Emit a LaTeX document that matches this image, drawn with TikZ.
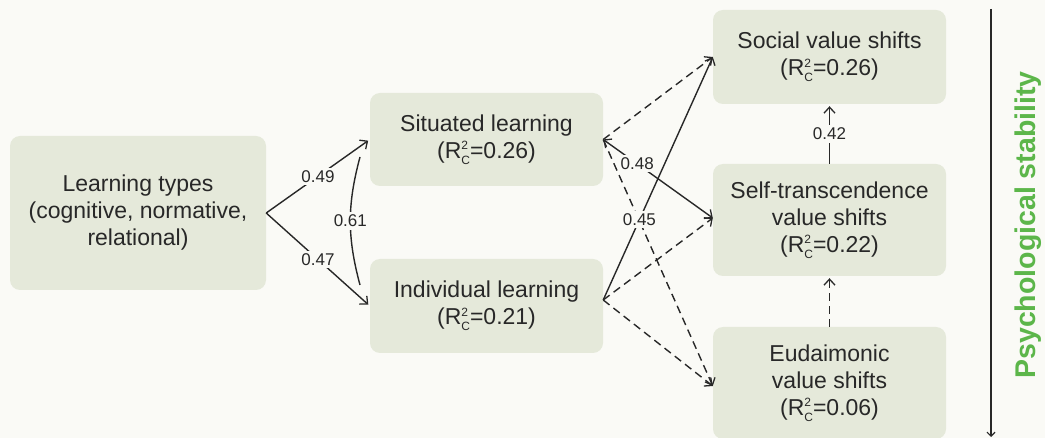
\documentclass[tikz,border=0pt]{standalone}
\usepackage{fontspec}
\setmainfont{Liberation Sans}
\usetikzlibrary{arrows.meta,calc}
\definecolor{bgcol}{RGB}{250,250,246}
\definecolor{boxcol}{RGB}{229,233,218}
\definecolor{inkcol}{RGB}{40,40,40}
\definecolor{greencol}{RGB}{92,182,74}
% R squared with a stacked C subscript
\newcommand\RsqC{R\rlap{\raisebox{0.68ex}{\fontsize{12}{12}\selectfont 2}}%
  \raisebox{-0.5ex}{\fontsize{12}{12}\selectfont C}}
\tikzset{
  box/.style={rounded corners=10pt, fill=boxcol, draw=none, align=center,
    text=inkcol, font=\fontsize{23}{27}\selectfont, inner sep=0pt},
  link/.style={draw=inkcol, line width=1.4pt,
    -{Straight Barb[length=6pt,width=11pt,line width=1.3pt]}},
  dlink/.style={link, dash pattern=on 8pt off 5pt},
  wt/.style={fill=bgcol, text=inkcol, font=\fontsize{17}{19}\selectfont,
    inner sep=2.5pt},
}
\begin{document}
\begin{tikzpicture}[x=1pt,y=-1pt]
  % canvas
  \fill[bgcol] (0,0) rectangle (1045,438);
  \useasboundingbox (0,0) rectangle (1045,438);

  % constructs
  \node[box, minimum width=256pt, minimum height=154pt] (lt) at (138,213)
    {Learning types\\(cognitive, normative,\\relational)};
  \node[box, minimum width=233pt, minimum height=93pt] (sit) at (486.5,139.5)
    {Situated learning\\(\RsqC=0.26)};
  \node[box, minimum width=233pt, minimum height=94pt] (ind) at (486.5,306)
    {Individual learning\\(\RsqC=0.21)};
  \node[box, minimum width=233pt, minimum height=94pt] (soc) at (829.5,57)
    {Social value shifts\\(\RsqC=0.26)};
  \node[box, minimum width=233pt, minimum height=112pt] (self) at (829.5,220)
    {Self-transcendence\\value shifts\\(\RsqC=0.22)};
  \node[box, minimum width=233pt, minimum height=112pt] (eud) at (829.5,383)
    {Eudaimonic\\value shifts\\(\RsqC=0.06)};

  % learning types to the two learning modes
  \draw[link, shorten >=2pt] (lt.east) -- node[wt] {0.49} (sit.west);
  \draw[link, shorten >=2pt] (lt.east) -- node[wt] {0.47} (ind.west);

  % covariance between the learning modes
  \coordinate (cvA) at (360,157);
  \coordinate (cvB) at (360,285);
  \draw[draw=inkcol, line width=1.4pt] (cvA) to[bend right=15]
    node[wt] {0.61} (cvB);

  % learning modes to value shifts
  \coordinate (sitO) at (sit.east);
  \coordinate (indO) at ([yshift=6pt]ind.east);
  \draw[dlink] (sitO) -- (soc.west);
  \draw[link, {Straight Barb[length=6pt,width=11pt,line width=1.3pt]}-{Straight Barb[length=6pt,width=11pt,line width=1.3pt]}]
    (sitO) -- node[wt, pos=0.31] {0.48} ([yshift=2pt]self.west);
  \draw[dlink] (sitO) -- ([yshift=-3pt]eud.west);
  \draw[link] (indO) -- node[wt, pos=0.33] {0.45} (soc.west);
  \draw[dlink] (indO) -- ([yshift=2pt]self.west);
  \draw[dlink] (indO) -- ([yshift=-3pt]eud.west);

  % links between value shifts
  \draw[link, shorten >=2pt] (self.north) -- node[wt] {0.42} (soc.south);
  \draw[dlink, shorten >=2pt] (eud.north) -- (self.south);

  % stability axis
  \coordinate (axTop) at (991,9);
  \coordinate (axBot) at (991,437);
  \draw[draw=inkcol, line width=1.5pt,
    -{Straight Barb[length=4pt,width=8pt,line width=1.2pt]}] (axTop) -- (axBot);
  \node[rotate=90, text=greencol, font=\fontsize{28.5}{32}\selectfont\bfseries]
    (stab) at (1028,225) {Psychological stability};
\end{tikzpicture}
\end{document}
